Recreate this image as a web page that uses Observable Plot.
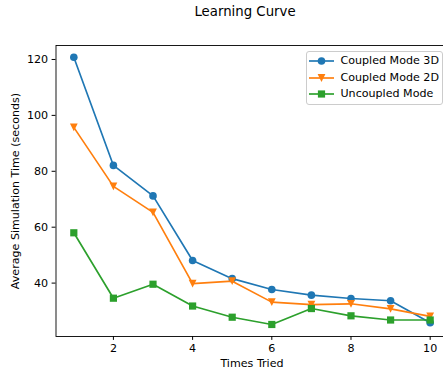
<!DOCTYPE html>
<html>
<head>
<meta charset="utf-8">
<script src="https://cdn.jsdelivr.net/npm/d3@7"></script>
<script src="https://cdn.jsdelivr.net/npm/@observablehq/plot@0.6"></script>
<style>
  html, body { margin: 0; padding: 0; background: #fff; overflow: hidden; }
  #wrap { position: relative; width: 443px; height: 373px; overflow: hidden; font-family: "DejaVu Sans", sans-serif; }
  #title { position: absolute; left: 0; top: 4px; width: 490px; text-align: center; font-size: 13.3px; line-height: 16px; color: #000; }
  #legend { position: absolute; left: 305.5px; top: 50.5px; width: 135px; height: 52px; border: 1px solid #cccccc; border-radius: 3px; background: rgba(255,255,255,0.8); box-sizing: content-box; }
  .row { position: absolute; left: 0; height: 16px; }
  .row svg { position: absolute; left: 2px; top: 0; }
  .row span { position: absolute; left: 34px; top: 0; font-size: 11.1px; line-height: 16px; white-space: nowrap; color: #000; }
  #chart { position: absolute; left: 0; top: 0; width: 448px; }
  #chart svg { max-width: none !important; }
</style>
</head>
<body>
<div id="wrap">
  <div id="chart"></div>
  <div id="title">Learning Curve</div>
  <div id="legend"></div>
</div>
<script>
// ---- data ----
const trials = [1, 2, 3, 4, 5, 6, 7, 8, 9, 10];
const coupled3D = [120.8, 82.1, 71.2, 48.1, 41.6, 37.7, 35.7, 34.5, 33.7, 25.8];
const coupled2D = [95.7, 74.6, 65.3, 39.8, 40.7, 33.2, 32.3, 32.6, 30.8, 28.1];
const uncoupled = [58.0, 34.6, 39.6, 31.8, 27.8, 25.2, 30.9, 28.3, 26.8, 26.8];
const seriesNames = ["Coupled Mode 3D", "Coupled Mode 2D", "Uncoupled Mode"];
const seriesValues = [coupled3D, coupled2D, uncoupled];
const seriesColors = ["#1f77b4", "#ff7f0e", "#2ca02c"];
const xTicks = [2, 4, 6, 8, 10];
const yTicks = [40, 60, 80, 100, 120];
const titleText = "Learning Curve";
const xLabel = "Times Tried";
const yLabel = "Average Simulation Time (seconds)";

// matplotlib-like markers
const circleSym = {draw(ctx, size) { const r = Math.sqrt(size / Math.PI); ctx.moveTo(r, 0); ctx.arc(0, 0, r, 0, 2 * Math.PI); ctx.closePath(); }};
const triDownSym = {draw(ctx, size) { const r = Math.sqrt(size / Math.PI); ctx.moveTo(0, r); ctx.lineTo(-r, -r); ctx.lineTo(r, -r); ctx.closePath(); }};
const squareSym = {draw(ctx, size) { const r = Math.sqrt(size / Math.PI); ctx.rect(-r, -r, 2 * r, 2 * r); ctx.closePath(); }};
const symbols = [circleSym, triDownSym, squareSym];
const symbolR = [3.8, 3.9, 3.6];

const table = seriesNames.flatMap((name, i) => trials.map((t, j) => ({series: name, idx: i, x: t, y: seriesValues[i][j]})));

const marks = [];
seriesNames.forEach((name, i) => {
  const d = table.filter(r => r.idx === i);
  marks.push(Plot.line(d, {x: "x", y: "y", stroke: seriesColors[i], strokeWidth: 1.67}));
  marks.push(Plot.dot(d, {x: "x", y: "y", fill: seriesColors[i], stroke: "none", r: symbolR[i], symbol: symbols[i]}));
});

const chart = Plot.plot({
  width: 448,
  height: 373,
  marginLeft: 55.5,
  marginRight: 0.5,
  marginTop: 45,
  marginBottom: 37,
  style: {fontFamily: "DejaVu Sans, sans-serif", fontSize: "11.1px", color: "#000", background: "#fff", overflow: "visible", maxWidth: "none"},
  x: {domain: [0.55, 10.45], ticks: xTicks, tickSize: 3.9, tickPadding: 4, label: null, line: false},
  y: {domain: [20.9, 125.0], ticks: yTicks, tickSize: 3.9, tickPadding: 4, label: null, line: false},
  marks: [
    ...marks,
    Plot.frame({stroke: "#000", strokeWidth: 0.9}),
    Plot.text([xLabel], {frameAnchor: "bottom", text: d => d, dy: 27, textAnchor: "middle", lineAnchor: "middle", fontSize: 11.1, fill: "#000"}),
    Plot.text([yLabel], {frameAnchor: "left", text: d => d, rotate: -90, dx: -40.5, textAnchor: "middle", lineAnchor: "middle", fontSize: 11.1, fill: "#000"})
  ]
});
chart.style.maxWidth = "none";
document.getElementById("chart").appendChild(chart);
document.getElementById("title").textContent = titleText;

// legend
const legend = document.getElementById("legend");
const ns = "http://www.w3.org/2000/svg";
seriesNames.forEach((name, i) => {
  const row = document.createElement("div");
  row.className = "row";
  row.style.top = (1.5 + i * 16.7) + "px";
  const svg = document.createElementNS(ns, "svg");
  svg.setAttribute("width", 28); svg.setAttribute("height", 16);
  const line = document.createElementNS(ns, "line");
  line.setAttribute("x1", 0); line.setAttribute("x2", 25); line.setAttribute("y1", 8); line.setAttribute("y2", 8);
  line.setAttribute("stroke", seriesColors[i]); line.setAttribute("stroke-width", 1.67);
  svg.appendChild(line);
  const path = document.createElementNS(ns, "path");
  const p = d3.path();
  const r = symbolR[i];
  symbols[i].draw(p, Math.PI * r * r);
  path.setAttribute("d", p.toString());
  path.setAttribute("transform", "translate(12.5,8)");
  path.setAttribute("fill", seriesColors[i]);
  svg.appendChild(path);
  row.appendChild(svg);
  const span = document.createElement("span");
  span.textContent = name;
  row.appendChild(span);
  legend.appendChild(row);
});
</script>
</body>
</html>
